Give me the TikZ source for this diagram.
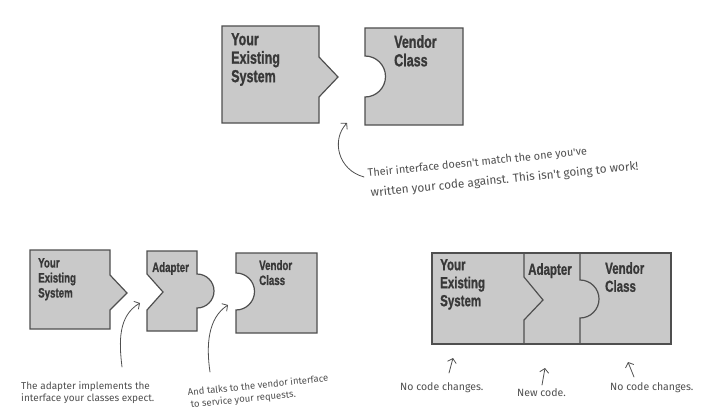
\documentclass[tikz,border=0pt]{standalone}
\usepackage{fontspec}
\usepackage{graphicx}
\setmainfont{Fira Sans}
\newfontfamily\headfont[FakeBold=1.2]{Liberation Sans}
\newfontfamily\handfont{Fira Sans}
\usetikzlibrary{arrows.meta}

% condensed look for the piece labels
\newcommand\squeezed[1]{\scalebox{0.72}[1]{#1}}

\definecolor{boxfill}{HTML}{C9C9C9}
\definecolor{boxline}{HTML}{4F4F4F}
\definecolor{ink}{HTML}{383838}
\definecolor{pen}{HTML}{505050}

\begin{document}
\begin{tikzpicture}[x=1pt,y=-1pt,
  piece/.style={draw=boxline, fill=boxfill, line width=1.2pt, line join=miter},
  divider/.style={draw=boxline, line width=1.2pt, line join=miter},
  lbl/.style={inner sep=0pt, anchor=north west, align=left, text=ink},
  biglbl/.style={lbl, font=\headfont\bfseries\fontsize{17.4}{18.5}\selectfont},
  smalllbl/.style={lbl, font=\headfont\bfseries\fontsize{13.5}{15}\selectfont},
  midlbl/.style={lbl, font=\headfont\bfseries\fontsize{16}{18}\selectfont},
  hand/.style={inner sep=0pt, anchor=base west, text=pen, font=\handfont\fontsize{#1}{#1}\selectfont},
  hand/.default=10,
  penarrow/.style={draw=pen, line width=0.8pt, line cap=round,
    -{Straight Barb[length=4pt,width=9pt,line width=0.8pt]}}
]
\fill[white] (0,0) rectangle (711,409);
\useasboundingbox (0,0) rectangle (711,409);

% ---------- top row: the two pieces that do not fit ----------
\path[piece] (222,26) -- (319,26) -- (319,57) -- (338,77) -- (319,97)
  -- (319,123) -- (222,123) -- cycle;
\path[piece] (365,28) -- (463,28) -- (463,125) -- (365,125) -- (365,97)
  arc[start angle=90, end angle=-90, radius=20.5] -- cycle;
\node[biglbl] (sysT) at (231,33) {\squeezed{Your}\\\squeezed{Existing}\\\squeezed{System}};
\node[biglbl] (venT) at (394,35) {\squeezed{Vendor}\\\squeezed{Class}};

\node[hand=10.9, rotate=5.8] (their1) at (368,177)
  {Their interface doesn't match the one you've};
\node[hand=11.8, rotate=5.8] (their2) at (371,197)
  {written your code against. This isn't going to work!};
\coordinate (gapT) at (347,123);
\draw[penarrow] ([shift={(-4,0)}]their1.base west)
  .. controls (338,170) and (331,140) .. (gapT);

% ---------- bottom left: system, adapter, vendor class ----------
\path[piece] (30,250) -- (110,250) -- (110,275) -- (127,293) -- (110,310)
  -- (110,329) -- (30,329) -- cycle;
\path[piece] (147,251) -- (197,251) -- (197,274)
  arc[start angle=-90, end angle=90, radius=17] -- (197,331) -- (147,331)
  -- (147,310) -- (163,292) -- (147,274) -- cycle;
\path[piece] (236,253) -- (317,253) -- (317,333) -- (236,333) -- (236,310)
  arc[start angle=90, end angle=-90, radius=18.5] -- cycle;
\node[smalllbl] (sysB) at (38,258) {\squeezed{Your}\\\squeezed{Existing}\\\squeezed{System}};
\node[smalllbl] (adaB) at (152,262) {\squeezed{Adapter}};
\node[smalllbl] (venB) at (259,260) {\squeezed{Vendor}\\\squeezed{Class}};

\node[hand=10] (impl1) at (21,389) {The adapter implements the};
\node[hand=10] (impl2) at (21,401) {interface your classes expect.};
\node[hand=9.5, rotate=6] (talk1) at (188,396) {And talks to the vendor interface};
\node[hand=9.5, rotate=6] (talk2) at (191,408) {to service your requests.};
\coordinate (implTail) at (122,367);
\coordinate (implTip) at (140,303);
\coordinate (talkTail) at (210,372);
\coordinate (talkTip) at (228,305);
\draw[penarrow] (implTail) .. controls (119,342) and (118,316) .. (implTip);
\draw[penarrow] (talkTail) .. controls (206,345) and (208,318) .. (talkTip);

% ---------- bottom right: the assembled system ----------
\path[piece] (432,253) rectangle (671,344);
\draw[divider] (524,253) -- (524,277) -- (543,300) -- (524,320) -- (524,344);
\draw[divider] (580,253) -- (580,280)
  arc[start angle=-90, end angle=90, radius=19] -- (580,344);
\node[midlbl] (sysC) at (440,259) {\squeezed{Your}\\\squeezed{Existing}\\\squeezed{System}};
\node[midlbl] (adaC) at (528,263) {\squeezed{Adapter}};
\node[midlbl] (venC) at (605,262) {\squeezed{Vendor}\\\squeezed{Class}};

\node[hand=10.5] (keep1) at (400,390) {No code changes.};
\node[hand=10.5] (newc) at (517,396) {New code.};
\node[hand=10.5] (keep2) at (610,390) {No code changes.};
\coordinate (keep1Tip) at (453,358);
\coordinate (newTip) at (545,368);
\coordinate (keep2Tip) at (628,362);
\draw[penarrow] ([shift={(49,-17)}]keep1.base west) -- (keep1Tip);
\draw[penarrow] ([shift={(25,-11)}]newc.base west) -- (newTip);
\draw[penarrow] ([shift={(24,-13)}]keep2.base west) -- (keep2Tip);
\end{tikzpicture}
\end{document}
